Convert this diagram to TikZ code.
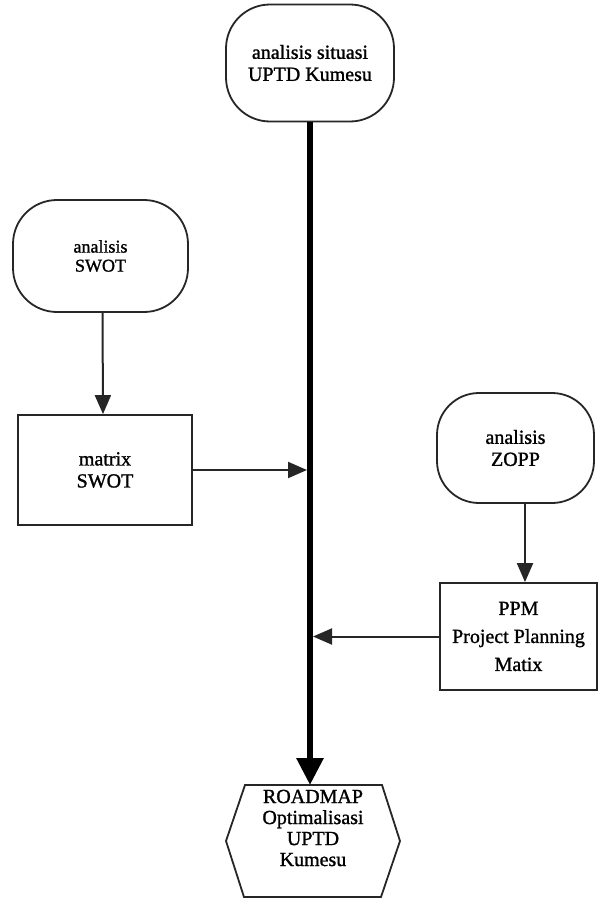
\documentclass[tikz,border=0pt]{standalone}
\usepackage{fontspec}
\setmainfont{Liberation Serif}[FakeBold=1.2]
\usetikzlibrary{arrows.meta,calc}
\begin{document}
\begin{tikzpicture}[x=1pt,y=-1pt,
  box/.style={draw=black!85,line width=1.8pt,align=center,inner sep=0pt,font=\fontsize{20}{22}\selectfont},
  roundbox/.style={box,rounded corners=44pt},
  thinarrow/.style={draw=black!85,line width=2pt,-{Triangle[width=16pt,length=19pt]}},
  spinearrow/.style={line width=6pt,-{Triangle[width=26pt,length=27pt]}},
]
\useasboundingbox (0,0) rectangle (599,902);
\fill[white] (0,0) rectangle (599,902);

\node[roundbox,minimum width=168pt,minimum height=117pt] (sit) at (310,63) {analisis situasi\\UPTD Kumesu};
\node[roundbox,minimum width=175pt,minimum height=112pt,font=\fontsize{18}{19}\selectfont] (swot) at (100.5,256) {analisis\\SWOT};
\node[box,minimum width=174pt,minimum height=110pt] (mat) at (105,470) {matrix\\SWOT};
\node[roundbox,minimum width=157pt,minimum height=110pt,rounded corners=42pt] (zopp) at (515.5,448) {analisis\\ZOPP};
\node[box,minimum width=157pt,minimum height=107pt,font=\fontsize{20}{28}\selectfont] (ppm) at (518.5,636.5) {PPM\\Project Planning\\Matix};

% hexagon
\coordinate (h1) at (245,785);
\coordinate (h2) at (382,785);
\coordinate (h3) at (400,841);
\coordinate (h4) at (381,897);
\coordinate (h5) at (244,897);
\coordinate (h6) at (226,841);
\coordinate (hexN) at (310,785);
\draw[draw=black!85,line width=1.8pt,line join=miter] (h1) -- (h2) -- (h3) -- (h4) -- (h5) -- (h6) -- cycle;
\node[align=center,inner sep=0pt,font=\fontsize{20}{21}\selectfont] (road) at (313,828) {ROADMAP\\Optimalisasi\\UPTD\\Kumesu};

% connectors
\draw[spinearrow] (sit.south) -- (hexN);
\draw[thinarrow] ([xshift=2pt]swot.south) -- ([xshift=-2pt]mat.north);
\draw[thinarrow] (mat.east) -- ($(mat.east -| sit.south)+(-3,0)$);
\draw[thinarrow] ([xshift=9.5pt]zopp.south) -- ([xshift=6.5pt]ppm.north);
\draw[thinarrow] (ppm.west) -- ($(ppm.west -| sit.south)+(3,0)$);
\end{tikzpicture}
\end{document}
